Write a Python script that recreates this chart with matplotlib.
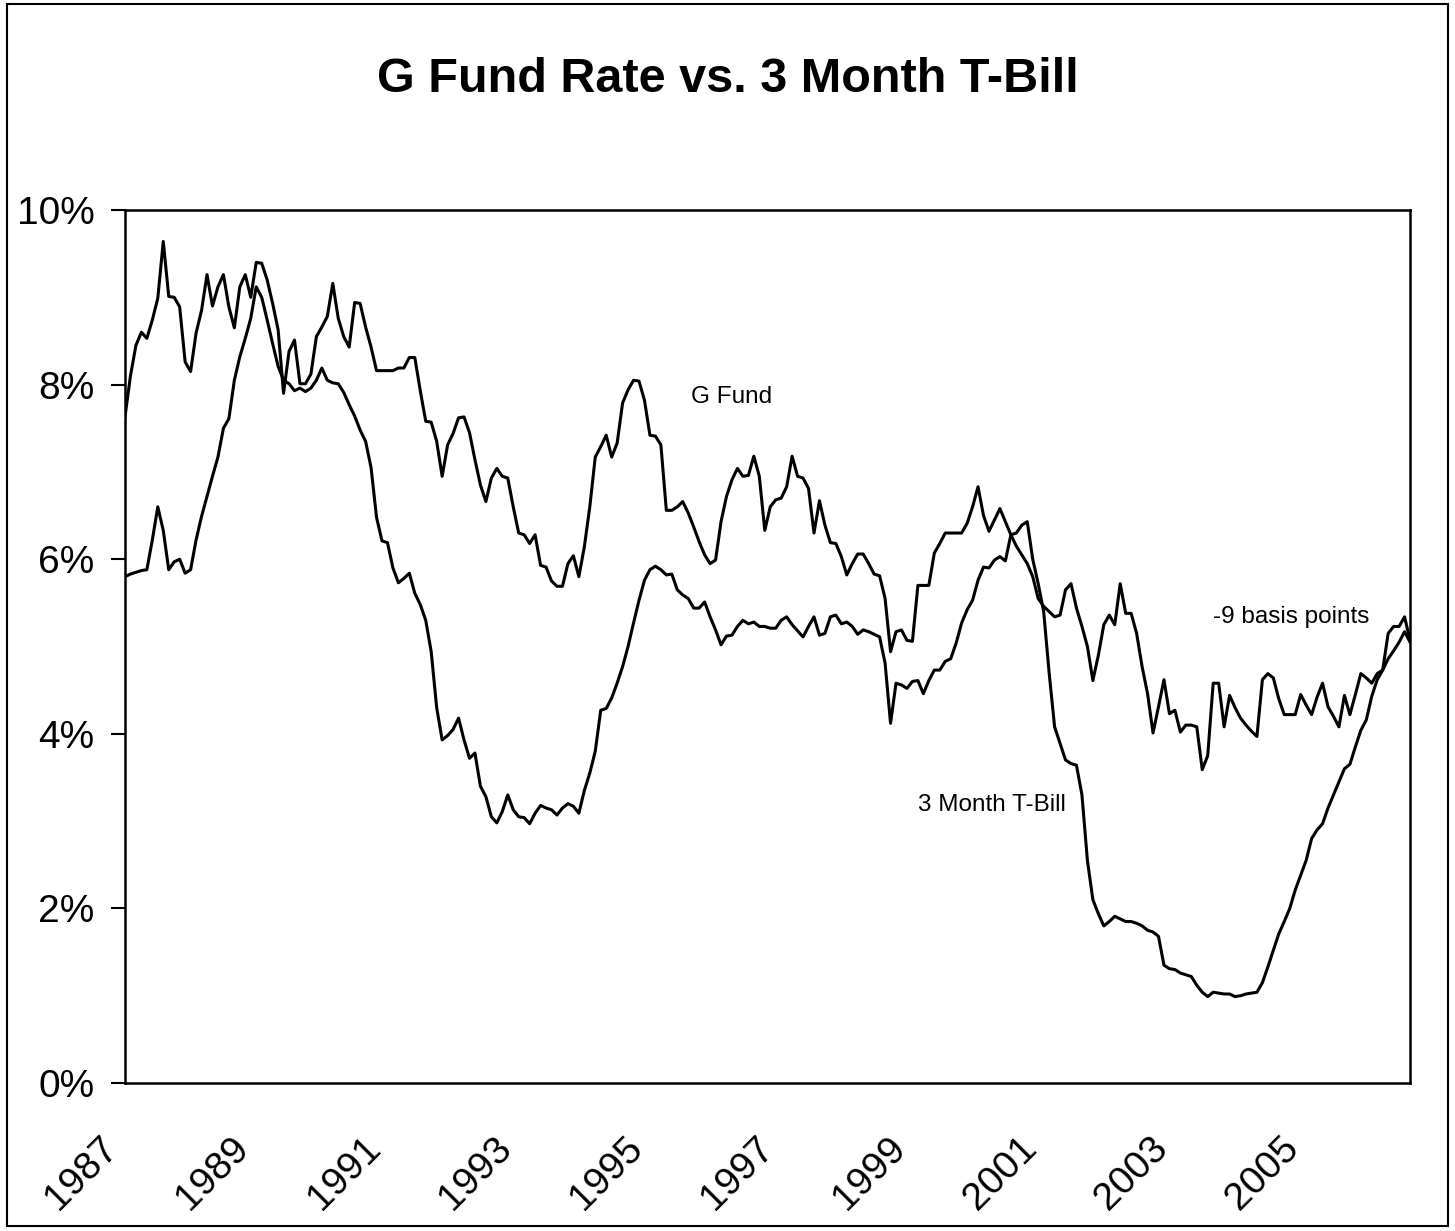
import matplotlib
matplotlib.use("Agg")
import matplotlib.pyplot as plt
import matplotlib.ticker as mticker
from matplotlib.patches import Rectangle

# monthly rates in percent, Jan 1987 onward
g_fund = [
    7.63, 8.10, 8.45, 8.60, 8.53, 8.74, 8.99, 9.64, 9.01, 9.00, 8.89, 8.26,
    8.15, 8.59, 8.85, 9.26, 8.90, 9.12, 9.26, 8.89, 8.65, 9.12, 9.26, 9.00,
    9.40, 9.39, 9.20, 8.93, 8.63, 7.90, 8.38, 8.51, 8.01, 8.01, 8.12, 8.55,
    8.66, 8.78, 9.16, 8.76, 8.55, 8.43, 8.94, 8.93, 8.66, 8.43, 8.16, 8.16,
    8.16, 8.16, 8.19, 8.19, 8.31, 8.31, 7.93, 7.58, 7.57, 7.35, 6.95, 7.31,
    7.44, 7.62, 7.63, 7.45, 7.14, 6.85, 6.66, 6.93, 7.04, 6.95, 6.93, 6.60,
    6.30, 6.28, 6.18, 6.28, 5.93, 5.91, 5.75, 5.69, 5.69, 5.95, 6.04, 5.80,
    6.14, 6.60, 7.17, 7.29, 7.42, 7.17, 7.33, 7.79, 7.94, 8.05, 8.04, 7.82,
    7.42, 7.41, 7.31, 6.56, 6.56, 6.60, 6.66, 6.53, 6.37, 6.20, 6.05, 5.95,
    5.99, 6.43, 6.72, 6.91, 7.04, 6.95, 6.96, 7.18, 6.95, 6.33, 6.60, 6.68,
    6.70, 6.83, 7.18, 6.95, 6.93, 6.81, 6.30, 6.67, 6.39, 6.19, 6.18, 6.03,
    5.82, 5.95, 6.06, 6.06, 5.95, 5.83, 5.81, 5.55, 4.94, 5.17, 5.19, 5.07,
    5.06, 5.70, 5.70, 5.70, 6.07, 6.18, 6.30, 6.30, 6.30, 6.30, 6.41, 6.60,
    6.83, 6.50, 6.32, 6.45, 6.58, 6.43, 6.28, 6.15, 6.05, 5.95, 5.80, 5.55,
    5.46, 5.40, 5.34, 5.36, 5.65, 5.72, 5.44, 5.23, 5.00, 4.61, 4.90, 5.25,
    5.36, 5.25, 5.72, 5.38, 5.38, 5.15, 4.77, 4.46, 4.01, 4.31, 4.62, 4.23,
    4.27, 4.02, 4.10, 4.10, 4.08, 3.59, 3.75, 4.58, 4.58, 4.08, 4.44, 4.30,
    4.18, 4.10, 4.03, 3.97, 4.62, 4.69, 4.64, 4.40, 4.22, 4.22, 4.22, 4.45,
    4.33, 4.22, 4.42, 4.58, 4.31, 4.20, 4.08, 4.44, 4.22, 4.45, 4.69, 4.64,
    4.58, 4.69, 4.73, 5.15, 5.23, 5.23, 5.34, 5.07,
]

t_bill = [
    5.80, 5.83, 5.85, 5.87, 5.88, 6.22, 6.60, 6.33, 5.88, 5.97, 6.00, 5.84,
    5.88, 6.22, 6.49, 6.72, 6.95, 7.17, 7.50, 7.61, 8.05, 8.32, 8.53, 8.76,
    9.12, 9.00, 8.74, 8.47, 8.21, 8.05, 8.01, 7.93, 7.96, 7.92, 7.96, 8.05,
    8.19, 8.05, 8.02, 8.01, 7.91, 7.77, 7.64, 7.48, 7.35, 7.05, 6.48, 6.21,
    6.19, 5.90, 5.73, 5.78, 5.84, 5.61, 5.48, 5.30, 4.94, 4.30, 3.93, 3.98,
    4.05, 4.18, 3.93, 3.72, 3.78, 3.40, 3.28, 3.05, 2.98, 3.11, 3.30, 3.13,
    3.05, 3.04, 2.97, 3.09, 3.18, 3.15, 3.13, 3.07, 3.15, 3.20, 3.17, 3.09,
    3.35, 3.55, 3.80, 4.27, 4.29, 4.41, 4.58, 4.77, 5.00, 5.27, 5.53, 5.76,
    5.88, 5.92, 5.88, 5.82, 5.83, 5.65, 5.59, 5.55, 5.44, 5.44, 5.51, 5.34,
    5.19, 5.02, 5.12, 5.13, 5.23, 5.30, 5.26, 5.28, 5.23, 5.23, 5.21, 5.21,
    5.30, 5.34, 5.25, 5.18, 5.11, 5.23, 5.34, 5.13, 5.15, 5.34, 5.36, 5.26,
    5.28, 5.23, 5.14, 5.19, 5.17, 5.14, 5.11, 4.81, 4.12, 4.58, 4.56, 4.52,
    4.60, 4.61, 4.46, 4.61, 4.73, 4.73, 4.83, 4.86, 5.04, 5.27, 5.42, 5.53,
    5.76, 5.91, 5.90, 5.99, 6.03, 5.98, 6.28, 6.30, 6.39, 6.43, 6.00, 5.72,
    5.40, 4.70, 4.08, 3.89, 3.70, 3.66, 3.64, 3.30, 2.55, 2.10, 1.94, 1.80,
    1.85, 1.91, 1.88, 1.85, 1.85, 1.83, 1.80, 1.75, 1.73, 1.68, 1.35, 1.31,
    1.30, 1.26, 1.24, 1.22, 1.12, 1.04, 0.99, 1.04, 1.03, 1.02, 1.02, 0.99,
    1.00, 1.02, 1.03, 1.04, 1.15, 1.33, 1.52, 1.71, 1.85, 2.00, 2.21, 2.38,
    2.55, 2.80, 2.90, 2.97, 3.15, 3.30, 3.45, 3.60, 3.65, 3.85, 4.04, 4.16,
    4.43, 4.62, 4.73, 4.86, 4.95, 5.05, 5.17, 5.05,
]

year_labels = ['1987', '1989', '1991', '1993', '1995', '1997', '1999',
               '2001', '2003', '2005']

plt.rcParams['font.family'] = ['Liberation Sans', 'DejaVu Sans']

fig = plt.figure(figsize=(14.55, 12.31), dpi=100)
ax = fig.add_axes([0.0859, 0.1202, 0.8832, 0.7092])

months = list(range(len(g_fund)))
ax.plot(months, g_fund, color='black', lw=2.2)
ax.plot(months, t_bill, color='black', lw=2.2)

ax.set_xlim(0, len(g_fund) - 1)
ax.set_ylim(0, 10)
ax.set_yticks([0, 2, 4, 6, 8, 10])
ax.yaxis.set_major_formatter(mticker.PercentFormatter(decimals=0))
ax.tick_params(axis='y', labelsize=28, length=10, width=1.5, pad=12)

ax.set_xticks(range(0, 24 * len(year_labels), 24))
ax.set_xticklabels(year_labels, rotation=45, ha='right', va='top')
ax.tick_params(axis='x', labelsize=28, length=0, pad=34)

for sp in ax.spines.values():
    sp.set_linewidth(1.8)

# series labels
ax.text(103.5, 7.86, 'G Fund', fontsize=17.5, va='center')
ax.text(145, 3.18, '3 Month T-Bill', fontsize=17.5, va='center')
ax.text(199, 5.34, '-9 basis points', fontsize=17.5, va='center')

fig.suptitle('G Fund Rate vs. 3 Month T-Bill', fontsize=35, fontweight='bold',
             y=0.954)

# frame around the whole picture
fig.patches.append(Rectangle((0.005, 0.004), 0.99, 0.993, transform=fig.transFigure,
                             fill=False, lw=1.5, color='black'))

fig.savefig('out.png', dpi=100)
